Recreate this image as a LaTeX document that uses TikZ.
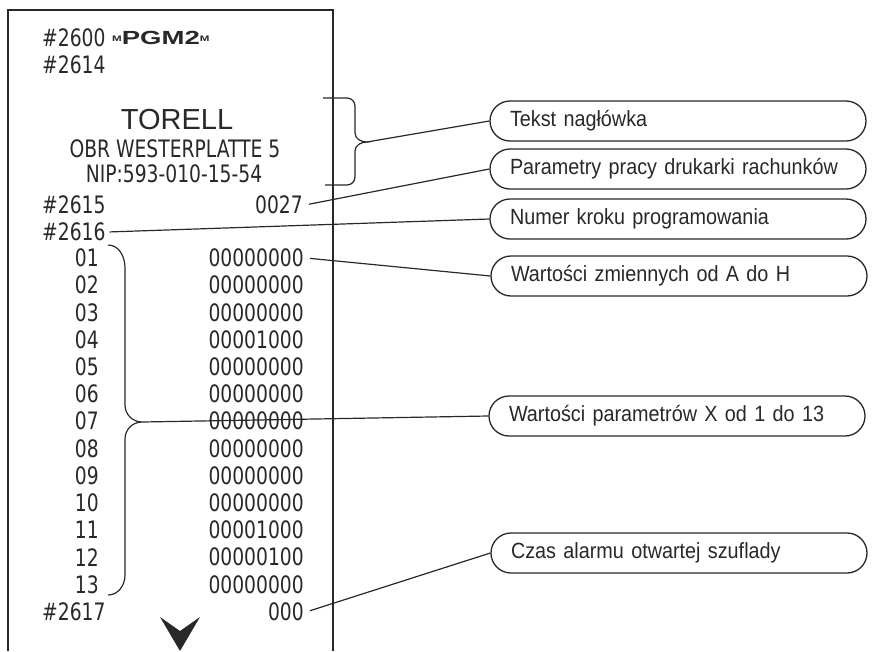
\documentclass[tikz,border=0pt]{standalone}
\usepackage{fontspec}
\setmainfont{Liberation Sans}
\newfontfamily\rcptfont[FakeStretch=0.78]{DejaVu Sans}
\newfontfamily\widefont[FakeStretch=1.45]{Liberation Sans}
\newfontfamily\lblfont[FakeStretch=0.9]{Liberation Sans}
\definecolor{inkgray}{RGB}{40,40,40}
\newcommand{\pmark}{{\fontsize{8}{8}\selectfont\raisebox{3pt}{M}}}

\begin{document}
\begin{tikzpicture}[x=1pt, y=-1pt, color=inkgray,
        lbl/.style={draw, line width=1.3pt, rounded corners=20pt,
                    minimum height=40pt, text width=336pt, inner xsep=20pt,
                    align=left, font=\lblfont\fontsize{22}{24}\selectfont},
        rcpt/.style={inner sep=2pt, font=\rcptfont\fontsize{24}{26}\selectfont},
        link/.style={line width=1.2pt}
      ]
        \useasboundingbox (0,0) rectangle (877,651);

        % paper strip
        \draw[line width=1.6pt] (8,651) -- (8,10) -- (333,10) -- (333,651);

        % receipt printout
        \node[rcpt, anchor=west] (p2600) at (40,38) {\#2600};
        \node[rcpt, anchor=west, font=\widefont\bfseries\fontsize{19}{20}\selectfont]
              (pgm) at (110,38) {\pmark PGM2\pmark};
        \node[rcpt, anchor=west] (p2614) at (40,65) {\#2614};
        \node[font=\fontsize{29}{30}\selectfont] (shop) at (177,120) {TORELL};
        \node[rcpt] (street) at (175,149) {OBR WESTERPLATTE 5};
        \node[rcpt] (nip) at (174,174) {NIP:593-010-15-54};
        \node[rcpt, anchor=west] (p2615) at (40,205) {\#2615};
        \node[rcpt, anchor=east] (v2615) at (305,205) {0027};
        \node[rcpt, anchor=west] (p2616) at (40,232) {\#2616};
        \foreach \n/\v [count=\i] in {01/00000000, 02/00000000, 03/00000000,
              04/00001000, 05/00000000, 06/00000000, 07/00000000,
              08/00000000, 09/00000000, 10/00000000, 11/00001000,
              12/00000100, 13/00000000} {
          \node[rcpt, anchor=east] (row\i) at (101,{258+(\i-1)*27.2}) {\n};
          \node[rcpt, anchor=east] (val\i) at (306,{258+(\i-1)*27.2}) {\v};
        }
        \node[rcpt, anchor=west] (p2617) at (40,612) {\#2617};
        \node[rcpt, anchor=east] (v2617) at (306,612) {000};
        \fill (160,617) -- (180,631) -- (200,617) -- (180,651) -- cycle;

        % braces
        \draw[link] (323,98) -- (347,98) to[out=0,in=90] (355,106) -- (355,133)
          to[out=-90,in=180] (367,142) coordinate (hdtip)
          to[out=180,in=90] (355,151) -- (355,177) to[out=-90,in=0] (347,185) -- (325,185);
        \draw[link] (108,245) to[out=0,in=90] (125,268) -- (125,405)
          to[out=-90,in=180] (142,422) coordinate (xtip)
          to[out=180,in=90] (125,439) -- (125,575) to[out=-90,in=0] (108,595);

        % callouts
        \node[lbl] (head) at (678,121) {Tekst nagłówka};
        \node[lbl] (print) at (678,169) {Parametry pracy drukarki rachunków};
        \node[lbl] (step) at (678,219) {Numer kroku programowania};
        \node[lbl] (vars) at (679,276) {Wartości zmiennych od A do H};
        \node[lbl] (xpar) at (677,416) {Wartości parametrów X od 1 do 13};
        \node[lbl] (drawer) at (679,553) {Czas alarmu otwartej szuflady};

        \draw[link] (hdtip) -- (head.west);
        \draw[link, shorten <=4pt] (v2615.east) -- (print.west);
        \draw[link, shorten <=2pt] (p2616.east) -- (step.west);
        \draw[link, shorten <=4pt] (val1.east) -- (vars.west);
        \draw[link] (xtip) -- (xpar.west);
        \draw[link, shorten <=4pt] (v2617.east) -- (drawer.west);
\end{tikzpicture}
\end{document}
